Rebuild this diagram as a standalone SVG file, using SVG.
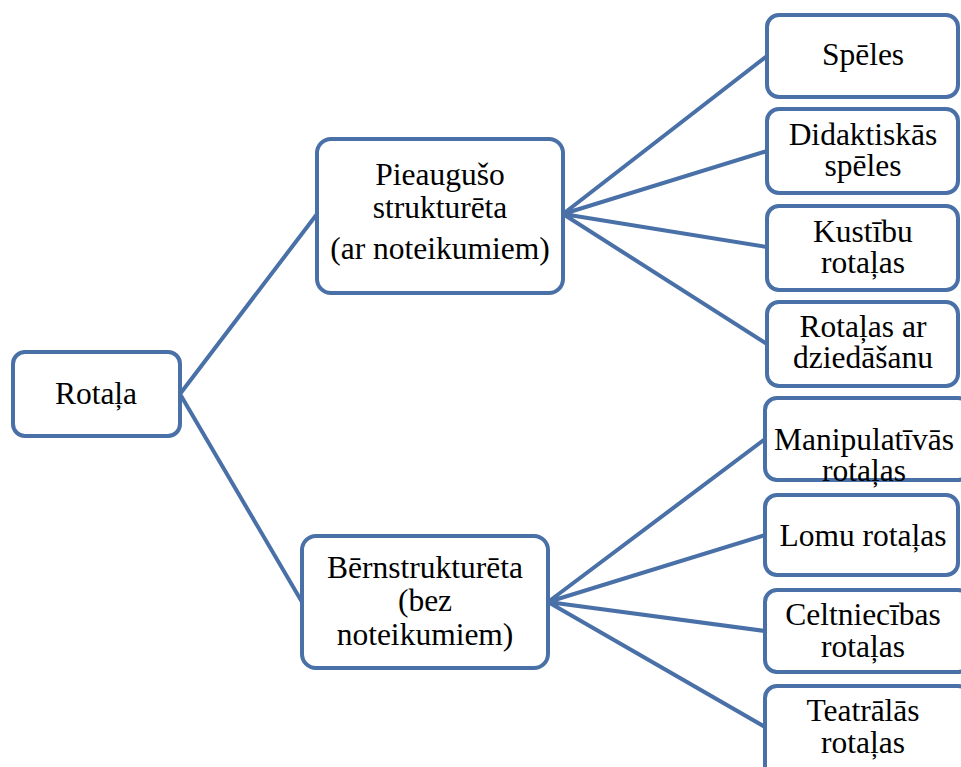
<svg xmlns="http://www.w3.org/2000/svg" width="961" height="767" viewBox="0 0 961 767">
<style>
.box{fill:#fff;stroke:#4A70A8;stroke-width:4}
.ln{stroke:#4A70A8;stroke-width:4;fill:none}
text{font-family:"Liberation Serif","Times New Roman",serif;font-size:31.5px;fill:#000;text-anchor:middle}
</style>
<rect width="961" height="767" fill="#fff"/>
<g id="connectors">
<path class="ln" d="M180 394 L317 214 M180 394 L302 602"/>
<path class="ln" d="M563 214 L767 56 M563 214 L767 151 M563 214 L767 247 M563 214 L767 344"/>
<path class="ln" d="M548 602 L765 439 M548 602 L765 535 M548 602 L765 631 M548 602 L765 727"/>
</g>
<g id="rotala"><rect class="box" x="13" y="352" width="167" height="84" rx="12"/><text x="96" y="404">Rotaļa</text></g>
<g id="pieauguso"><rect class="box" x="317" y="139" width="246" height="154" rx="14"/><text x="440" y="185">Pieaugušo</text><text x="440" y="218">strukturēta</text><text x="440" y="259">(ar noteikumiem)</text></g>
<g id="bernstruktureta"><rect class="box" x="302" y="536" width="246" height="132" rx="14"/><text x="425" y="578">Bērnstrukturēta</text><text x="425" y="611">(bez</text><text x="425" y="645">noteikumiem)</text></g>
<g id="speles"><rect class="box" x="767" y="15" width="191" height="82" rx="12"/><text x="863" y="65">Spēles</text></g>
<g id="didaktiskas"><rect class="box" x="767" y="109" width="191" height="84" rx="12"/><text x="863" y="145">Didaktiskās</text><text x="863" y="176">spēles</text></g>
<g id="kustibu"><rect class="box" x="767" y="206" width="191" height="84" rx="12"/><text x="863" y="242">Kustību</text><text x="863" y="273">rotaļas</text></g>
<g id="dziedasanu"><rect class="box" x="767" y="302" width="191" height="84" rx="12"/><text x="863" y="337">Rotaļas ar</text><text x="863" y="368">dziedāšanu</text></g>
<g id="manipulativas"><rect class="box" x="765" y="398" width="205" height="82" rx="12"/><text x="864" y="450">Manipulatīvās</text><text x="864" y="481">rotaļas</text></g>
<g id="lomu"><rect class="box" x="765" y="495" width="193" height="80" rx="12"/><text x="863" y="546">Lomu rotaļas</text></g>
<g id="celtniecibas"><rect class="box" x="765" y="590" width="205" height="82" rx="12"/><text x="863" y="625">Celtniecības</text><text x="863" y="657">rotaļas</text></g>
<g id="teatralas"><rect class="box" x="765" y="686" width="205" height="100" rx="12"/><text x="863" y="721">Teatrālās</text><text x="863" y="753">rotaļas</text></g>
</svg>
